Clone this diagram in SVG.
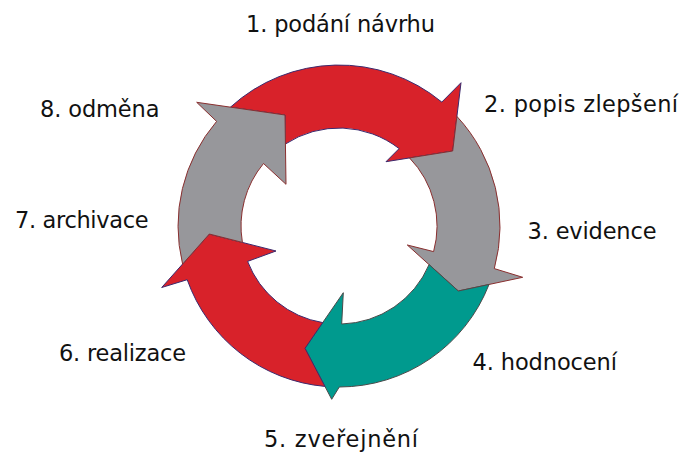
<svg xmlns="http://www.w3.org/2000/svg" width="700" height="473" viewBox="0 0 700 473">
<style>
.lbl{font-family:"DejaVu Sans","Liberation Sans",sans-serif;font-size:22.5px;fill:#111;}
.red{fill:#D8222A;stroke:#3C2A6E;stroke-width:1;stroke-linejoin:miter;}
.gray{fill:#97979B;stroke:#8A2F2F;stroke-width:1;stroke-linejoin:miter;}
.teal{fill:#009A8E;stroke:#4A4A4A;stroke-width:1;stroke-linejoin:miter;}
</style>
<rect width="700" height="473" fill="#fff"/>
<g id="cycle">
<g id="arrow1"><path class="red" d="M230.4,107.2 A161,161 0 0 1 441.8,102.1 L461,82.7 L452.7,151 L386,161.7 L399.1,148.6 A98,98 0 0 0 285.4,144 L285,115 Z"/></g>
<g id="arrow2"><path class="gray" d="M456.9,116.4 A161,161 0 0 1 494.3,268.6 L522.7,277.3 L458.3,291 L407.3,245 L433.6,251.6 A98,98 0 0 0 409.5,157.9 L452.7,151 Z"/></g>
<g id="arrow3"><path class="teal" d="M489,284.5 A161,161 0 0 1 339.3,387 L331.7,399.3 L305,348.3 L343.3,292.7 L341.7,324 A98,98 0 0 0 429.1,264.6 L458.3,291 Z"/></g>
<g id="arrow4"><path class="red" d="M324.9,386.4 A161,161 0 0 1 187.2,279.7 L161.7,287.5 L209.3,234 L276,251 L247.6,261.4 A98,98 0 0 0 322.7,322.6 L305,348.3 Z"/></g>
<g id="arrow5"><path class="gray" d="M182.6,264.1 A161,161 0 0 1 216.6,121.4 L196.7,102.3 L285,115 L286,184.3 L263.5,163.5 A98,98 0 0 0 242.4,242.4 L209.3,234 Z"/></g>
</g>
<g id="labels">
<g id="step1"><text class="lbl" x="246" y="31.7" textLength="189" lengthAdjust="spacing">1. podání návrhu</text></g>
<g id="step2"><text class="lbl" x="484" y="111.7" textLength="194" lengthAdjust="spacing">2. popis zlepšení</text></g>
<g id="step3"><text class="lbl" x="527.5" y="239.3" textLength="129" lengthAdjust="spacing">3. evidence</text></g>
<g id="step4"><text class="lbl" x="472.5" y="370" textLength="144.5" lengthAdjust="spacing">4. hodnocení</text></g>
<g id="step5"><text class="lbl" x="264" y="446.7" textLength="154" lengthAdjust="spacing">5. zveřejnění</text></g>
<g id="step6"><text class="lbl" x="59" y="360.7" textLength="127" lengthAdjust="spacing">6. realizace</text></g>
<g id="step7"><text class="lbl" x="15" y="228.3" textLength="133.5" lengthAdjust="spacing">7. archivace</text></g>
<g id="step8"><text class="lbl" x="40" y="116.7" textLength="119.5" lengthAdjust="spacing">8. odměna</text></g>
</g>
</svg>
